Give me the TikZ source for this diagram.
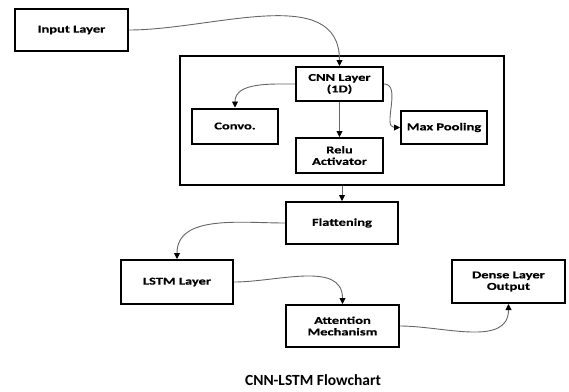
\documentclass[tikz,border=0pt]{standalone}
\usepackage{fontspec}
\setmainfont{Carlito}
\newfontfamily\boxfont{Carlito}[FakeStretch=1.38, FakeBold=0.4]
\usepackage{tikz}
\usetikzlibrary{positioning,arrows.meta}

\begin{document}
\begin{tikzpicture}[x=1pt, y=-1pt,
    block/.style={draw, line width=2pt, align=center, inner sep=0pt,
        font=\boxfont\fontsize{10.5}{11.5}\selectfont\bfseries},
    flow/.style={draw=black!60, line width=0.9pt, -{Triangle[black, length=6pt, width=6pt]}}]
    \useasboundingbox (0,0) rectangle (569,391);

    % outer frame of the CNN part
    \node [draw, line width=1.5pt, minimum width=324pt, minimum height=129pt] (cnnbox) at (342,120.5) {};

    \node [block, minimum width=113pt, minimum height=42pt] (input) at (71.5,30) {Input Layer};
    \node [block, minimum width=87pt, minimum height=34pt] (cnn) at (339.5,84) {CNN Layer\\(1D)};
    \node [block, minimum width=86pt, minimum height=35pt] (convo) at (235,126) {Convo.};
    \node [block, minimum width=87pt, minimum height=35pt] (relu) at (339.5,155.5) {Relu\\Activator};
    \node [block, minimum width=86pt, minimum height=33pt] (maxpool) at (444,127.5) {Max Pooling};

    % lower chain
    \node [block, minimum width=112pt, minimum height=42pt] (flat) at (342,223) {Flattening};
    \node [block, minimum width=112pt, minimum height=44pt] (lstm) at (177,282) {LSTM Layer};
    \node [block, minimum width=113pt, minimum height=42pt] (attn) at (342.5,326) {Attention\\Mechanism};
    \node [block, minimum width=113pt, minimum height=43pt] (dense) at (508.5,281.5) {Dense Layer\\Output};

    \node [font=\fontsize{15.5}{17}\selectfont\bfseries] (title) at (313,380) {CNN-LSTM Flowchart};

    \draw [flow] (input.east) to[out=0, in=90] (cnn.north);
    \draw [flow] (cnn.west) to[out=180, in=90] (convo.north);
    \draw [flow] (cnn.south) -- (relu.north);
    \draw [flow] (cnn.east) to[out=0, in=180] (maxpool.west);
    \draw [flow] (cnnbox.south) -- (flat.north);
    \draw [flow] (flat.west) to[out=180, in=90] (lstm.north);
    \draw [flow] (lstm.east) to[out=0, in=90] (attn.north);
    \draw [flow] (attn.east) to[out=0, in=-90] (dense.south);
\end{tikzpicture}
\end{document}
